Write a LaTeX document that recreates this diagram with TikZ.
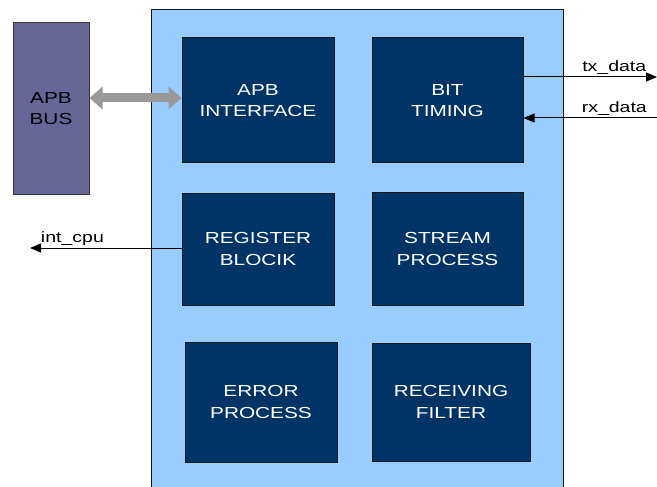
\documentclass[tikz,border=0pt]{standalone}
\usepackage{fontspec}
\setmainfont{Liberation Sans}[FakeStretch=1.3]
\usepackage{tikz}
\usetikzlibrary{arrows.meta,positioning}
\definecolor{corefill}{HTML}{99CCFF}
\definecolor{blockfill}{HTML}{003366}
\definecolor{busfill}{HTML}{666699}
\definecolor{linkgray}{HTML}{999999}
\definecolor{ink}{HTML}{111111}
\tikzset{
  can diagram/.style={
    x=1pt, y=-1pt,
    >={Triangle[length=11pt,width=9pt]},
    line cap=butt
  },
  corebox/.style={
    draw=ink,
    line width=1pt,
    fill=corefill,
    anchor=north west,
    inner sep=0pt,
    minimum width=412pt,
    minimum height=490pt
  },
  busbox/.style={
    draw=ink!85,
    line width=1pt,
    fill=busfill,
    align=center,
    text=black,
    font=\fontsize{16}{21.5}\selectfont,
    minimum width=76pt,
    minimum height=171pt
  },
  blockbox/.style={
    draw=black!90,
    line width=1pt,
    fill=blockfill,
    align=center,
    text=white,
    font=\fontsize{16}{21.5}\selectfont,
    minimum width=152pt,
    minimum height=125pt,
    inner sep=0pt
  },
  sigarrow/.style={
    ->,
    draw=black,
    line width=1pt
  },
  siglabel/.style={
    font=\fontsize{15}{18}\selectfont,
    inner sep=2pt
  },
  busarrow/.style={
    {Triangle[length=13pt,width=22pt]}-{Triangle[length=13pt,width=22pt]},
    draw=linkgray,
    line width=9pt
  }
}
\begin{document}
\begin{tikzpicture}[can diagram]
\useasboundingbox (0,0) rectangle (657,487);
\node[corebox] (core) at (151,9) {};
\node[busbox] (bus) at (51,108.5) {APB\\BUS};
\node[blockbox] (apbif) at (258,100.5) {APB\\INTERFACE};
\node[blockbox, minimum width=151pt, right=37pt of apbif] (bittim) {BIT\\TIMING};
\node[blockbox, minimum height=112pt, below=29pt of apbif] (regblk) {REGISTER\\BLOCIK};
\node[blockbox, minimum width=151pt, minimum height=113pt, right=37pt of regblk] (stream) {STREAM\\PROCESS};
\node[blockbox, minimum height=120pt, below=36pt of regblk, xshift=3pt] (errproc) {ERROR\\PROCESS};
\node[blockbox, minimum width=158pt, minimum height=118pt, right=34pt of errproc] (recfilt) {RECEIVING\\FILTER};
\coordinate (txout) at (657,77);
\coordinate (rxin) at (657,118);
\coordinate (cpuout) at (30,248);

\draw[busarrow] ([yshift=2.5pt]apbif.west -| bus.east) -- ([yshift=2.5pt]apbif.west);
\draw[sigarrow] (bittim.east |- txout) -- node[siglabel, above, pos=0.68]{tx\_data} (txout);
\draw[sigarrow] (rxin) -- node[siglabel, above, pos=0.32]{rx\_data} (bittim.east |- rxin);
\draw[sigarrow] (regblk.west |- cpuout) -- node[siglabel, above, pos=0.72]{int\_cpu} (cpuout);
\end{tikzpicture}
\end{document}
